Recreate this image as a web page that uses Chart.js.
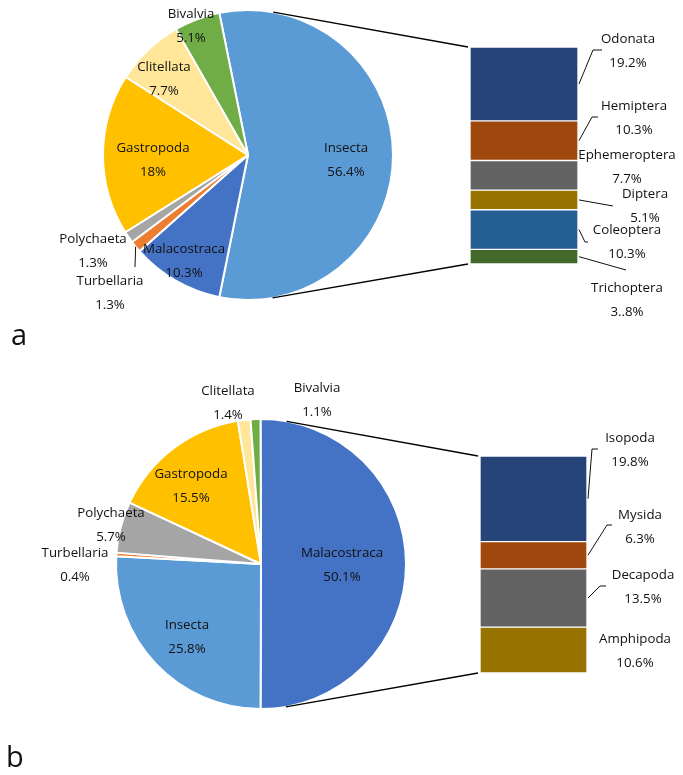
<!DOCTYPE html>
<html><head><meta charset="utf-8">
<script src="https://cdn.jsdelivr.net/npm/chart.js@4/dist/chart.umd.min.js"></script>
<style>
html,body{margin:0;padding:0;background:#fff;}
#wrap{position:relative;width:683px;height:775px;overflow:hidden;background:#fff;}
canvas{position:absolute;left:0;top:0;}
.tag{position:absolute;font-family:'Open Sans',sans-serif;font-size:29px;color:#111;line-height:1;}
</style></head><body>
<div id="wrap">
<canvas id="pieA" width="683" height="775"></canvas>
<canvas id="barA" width="683" height="775"></canvas>
<canvas id="pieB" width="683" height="775"></canvas>
<canvas id="barB" width="683" height="775"></canvas>
<div class="tag" style="left:11px;top:319px">a</div>
<div class="tag" style="left:6px;top:741px">b</div>
</div>
<script>
// ---------- DATA ----------
const pieACategories = ['Insecta','Malacostraca','Turbellaria','Polychaeta','Gastropoda','Clitellata','Bivalvia'];
const pieAValues = [56.4, 10.3, 1.3, 1.3, 18, 7.7, 5.1];
const pieALabels = ['56.4%','10.3%','1.3%','1.3%','18%','7.7%','5.1%'];

const barACategories = ['Odonata','Hemiptera','Ephemeroptera','Diptera','Coleoptera','Trichoptera'];
const barAValues = [19.2, 10.3, 7.7, 5.1, 10.3, 3.8];
const barALabels = ['19.2%','10.3%','7.7%','5.1%','10.3%','3..8%'];

const pieBCategories = ['Malacostraca','Insecta','Turbellaria','Polychaeta','Gastropoda','Clitellata','Bivalvia'];
const pieBValues = [50.1, 25.8, 0.4, 5.7, 15.5, 1.4, 1.1];
const pieBLabels = ['50.1%','25.8%','0.4%','5.7%','15.5%','1.4%','1.1%'];

const barBCategories = ['Isopoda','Mysida','Decapoda','Amphipoda'];
const barBValues = [19.8, 6.3, 13.5, 10.6];
const barBLabels = ['19.8%','6.3%','13.5%','10.6%'];

// ---------- STYLE ----------
const FONT = "'Open Sans', sans-serif";
const FONT_SIZE = 13.3;
const LINE_GAP = 24;
const TEXT = '#111';
const taxonColors = {
  Insecta:'#5B9BD5', Malacostraca:'#4472C4', Turbellaria:'#ED7D31', Polychaeta:'#A5A5A5',
  Gastropoda:'#FFC000', Clitellata:'#FFE699', Bivalvia:'#70AD47'
};
const barAColors = ['#264478','#9E480E','#636363','#997300','#255E91','#43682B'];
const barBColors = ['#264478','#9E480E','#636363','#997300'];

// label layout (offsets of label centre; pie: from pie centre, bar: from bar top-right corner)
const pieALayout = [
  {dx:98, dy:5}, {dx:-64, dy:106}, {dx:-138, dy:138, leader:[[25,-26]]},
  {dx:-155, dy:96}, {dx:-95, dy:5}, {dx:-84, dy:-76}, {dx:-57, dy:-129}
];
const barALayout = [
  {dx:50, dy:4, leader:[[-35,-1],[-26,-1]]},
  {dx:56, dy:71, leader:[[-42,-1],[-36,-1]]},
  {dx:49, dy:120},
  {dx:67, dy:159, leader:[[-32,0]]},
  {dx:49, dy:195, leader:[[-42,0],[-39,0]]},
  {dx:49, dy:253, leader:[[-1,-30]]}
];
const pieBLayout = [
  {dx:81, dy:1}, {dx:-74, dy:73}, {dx:-186, dy:1}, {dx:-150, dy:-39},
  {dx:-70, dy:-78}, {dx:-33, dy:-161}, {dx:56, dy:-164}
];
const barBLayout = [
  {dx:43, dy:-6, leader:[[-38,-1],[-32,-1]]},
  {dx:53, dy:71, leader:[[-33,-2],[-28,-2]]},
  {dx:56, dy:131, leader:[[-43,-1],[-37,-1]]},
  {dx:48, dy:195}
];

function sum(a){ return a.reduce((s,v)=>s+v,0); }

function makeLabelPlugin(kind, names, pcts, layout){
  return {
    id:'twoLineLabels',
    afterDraw(chart){
      const ctx = chart.ctx;
      ctx.save();
      ctx.font = FONT_SIZE + 'px ' + FONT;
      ctx.fillStyle = TEXT; ctx.strokeStyle = TEXT; ctx.lineWidth = 1;
      ctx.textAlign = 'center'; ctx.textBaseline = 'middle';
      layout.forEach((it, i) => {
        let cx, cy, sx, sy;
        if (kind === 'pie') {
          const arc = chart.getDatasetMeta(0).data[i];
          cx = arc.x + it.dx; cy = arc.y + it.dy;
          const mid = (arc.startAngle + arc.endAngle) / 2;
          sx = arc.x + Math.cos(mid) * arc.outerRadius;
          sy = arc.y + Math.sin(mid) * arc.outerRadius;
        } else {
          const bar = chart.getDatasetMeta(i).data[0];
          const ca = chart.chartArea;
          cx = ca.right + it.dx; cy = ca.top + it.dy;
          sx = bar.x + bar.width / 2 + 1; sy = (bar.y + bar.base) / 2;
        }
        if (it.leader) {
          ctx.beginPath(); ctx.moveTo(sx, sy);
          it.leader.forEach(p => ctx.lineTo(cx + p[0], cy + p[1]));
          ctx.stroke();
        }
        ctx.fillText(names[i], cx, cy - LINE_GAP / 2);
        ctx.fillText(pcts[i], cx, cy + LINE_GAP / 2);
      });
      ctx.restore();
    }
  };
}

function makeConnector(pie){
  return {
    id:'connector',
    afterDraw(chart){
      const arc = pie.getDatasetMeta(0).data[0];
      const r = arc.outerRadius;
      const ca = chart.chartArea;
      const ctx = chart.ctx;
      ctx.save();
      ctx.strokeStyle = '#000'; ctx.lineWidth = 1.3;
      [[ca.left, ca.top, -1], [ca.left, ca.bottom, 1]].forEach(([px, py, s]) => {
        const dx = px - arc.x, dy = py - arc.y, d = Math.hypot(dx, dy);
        const a = Math.atan2(dy, dx) + s * Math.acos(r / d);
        ctx.beginPath();
        ctx.moveTo(arc.x + r * Math.cos(a), arc.y + r * Math.sin(a));
        ctx.lineTo(px - 2, py);
        ctx.stroke();
      });
      ctx.restore();
    }
  };
}

function pieChart(id, cats, vals, pcts, layout, padding){
  const rotation = 90 - (vals[0] / sum(vals) * 360) / 2;
  return new Chart(document.getElementById(id), {
    type:'pie',
    data:{ labels:cats, datasets:[{ data:vals, backgroundColor:cats.map(c => taxonColors[c]),
      borderColor:'#ffffff', borderWidth:2 }] },
    options:{
      responsive:false, animation:false, events:[],
      rotation, radius:145,
      layout:{ padding },
      plugins:{ legend:{display:false}, tooltip:{enabled:false} }
    },
    plugins:[ makeLabelPlugin('pie', cats, pcts, layout) ]
  });
}

function barChart(id, cats, vals, pcts, colors, layout, padding, pie){
  return new Chart(document.getElementById(id), {
    type:'bar',
    data:{ labels:[''], datasets: cats.map((c, i) => ({
      label:c, data:[vals[i]], backgroundColor:colors[i], borderColor:'#ffffff',
      borderWidth:1, borderSkipped:false, categoryPercentage:1, barPercentage:1 })) },
    options:{
      responsive:false, animation:false, events:[],
      layout:{ padding },
      scales:{
        x:{ display:false, stacked:true },
        y:{ display:false, stacked:true, min:0, max:sum(vals), reverse:true }
      },
      plugins:{ legend:{display:false}, tooltip:{enabled:false} }
    },
    plugins:[ makeLabelPlugin('bar', cats, pcts, layout), makeConnector(pie) ]
  });
}

const pieA = pieChart('pieA', pieACategories, pieAValues, pieALabels, pieALayout,
  {left:103, top:10, right:290, bottom:475});
barChart('barA', barACategories, barAValues, barALabels, barAColors, barALayout,
  {left:470, top:47, right:105, bottom:511}, pieA);
const pieB = pieChart('pieB', pieBCategories, pieBValues, pieBLabels, pieBLayout,
  {left:116, top:419, right:277, bottom:66});
barChart('barB', barBCategories, barBValues, barBLabels, barBColors, barBLayout,
  {left:480, top:456, right:96, bottom:102}, pieB);
</script>
</body></html>
